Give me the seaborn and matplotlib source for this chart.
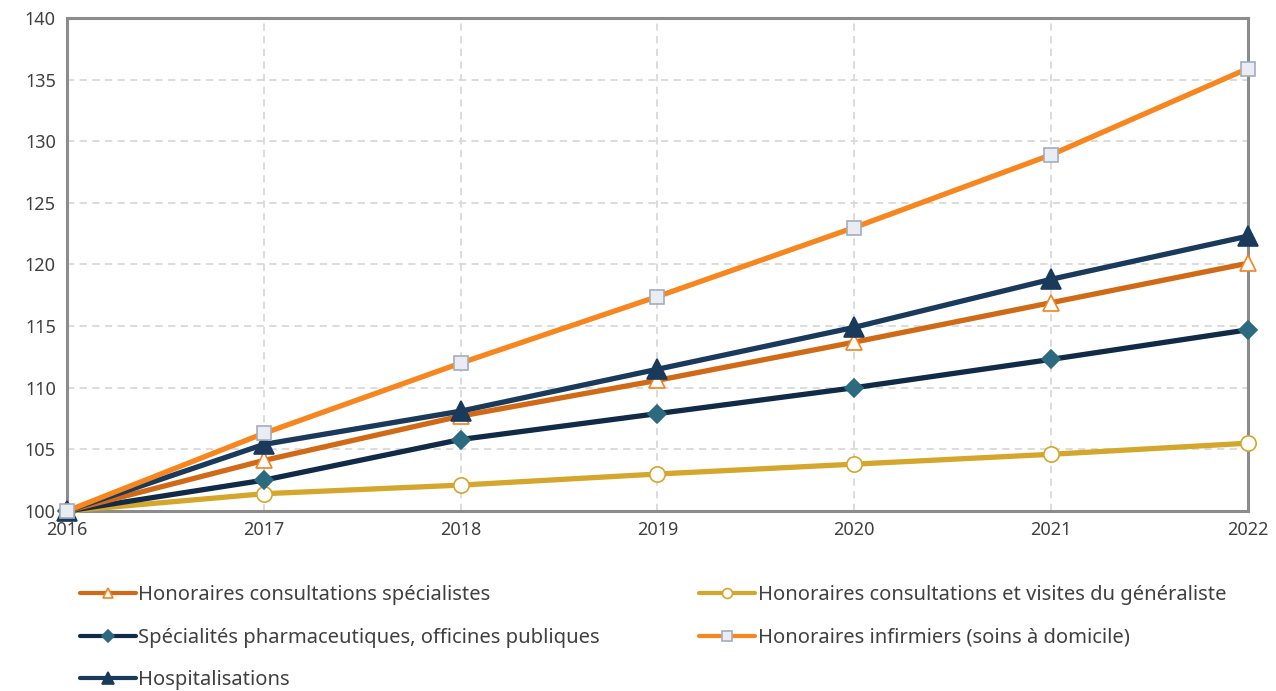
import matplotlib
matplotlib.use("Agg")
import matplotlib.pyplot as plt
import seaborn as sns
import pandas as pd

years = [2016, 2017, 2018, 2019, 2020, 2021, 2022]

specialistes = [100, 104.1, 107.7, 110.6, 113.7, 116.9, 120.1]
generaliste = [100, 101.4, 102.1, 103.0, 103.8, 104.6, 105.5]
pharma = [100, 102.5, 105.8, 107.9, 110.0, 112.3, 114.7]
infirmiers = [100, 106.3, 112.0, 117.4, 123.0, 128.9, 135.9]
hospitalisations = [100, 105.4, 108.1, 111.5, 114.9, 118.8, 122.3]

labels = [
    "Honoraires consultations spécialistes",
    "Honoraires consultations et visites du généraliste",
    "Spécialités pharmaceutiques, officines publiques",
    "Honoraires infirmiers (soins à domicile)",
    "Hospitalisations",
]
values = [specialistes, generaliste, pharma, infirmiers, hospitalisations]

# line colour, marker, marker face, marker edge, marker size
styles = {
    labels[0]: ("#D06A16", "^", "white", "#F58220", 12),
    labels[1]: ("#D5A62C", "o", "white", "#D5A62C", 11),
    labels[2]: ("#112B47", "D", "#2C6A80", "#2C6A80", 9),
    labels[3]: ("#F7861F", "s", "#E9EDF3", "#A3ADBD", 10),
    labels[4]: ("#1A3A5C", "^", "#1A3A5C", "#1A3A5C", 14),
}

df = pd.DataFrame(
    [(y, v, lab) for lab, vals in zip(labels, values) for y, v in zip(years, vals)],
    columns=["year", "value", "series"],
)

sns.set_style("white")
plt.rcParams["font.family"] = ["Noto Sans", "DejaVu Sans"]

fig = plt.figure(figsize=(12.76, 6.91), dpi=100)
ax = fig.add_axes([0.0525, 0.2605, 0.9255, 0.7135])

draw_order = [labels[1], labels[2], labels[0], labels[4], labels[3]]
for lab in draw_order:
    lc, mk, mfc, mec, ms = styles[lab]
    sub = df[df["series"] == lab]
    sns.lineplot(data=sub, x="year", y="value", ax=ax, color=lc, linewidth=3.8,
                 marker=mk, markersize=ms, markerfacecolor=mfc,
                 markeredgecolor=mec, markeredgewidth=1.2, label=lab,
                 clip_on=False, zorder=3)

ax.set_xlim(2016, 2022)
ax.set_ylim(100, 140)
ax.set_xticks(years)
ax.set_yticks(range(100, 141, 5))
ax.set_xlabel("")
ax.set_ylabel("")
ax.grid(True, color="#D9D9D9", linestyle=(0, (4, 3)), linewidth=1.3)
for s in ax.spines.values():
    s.set_color("#8C8C8C")
    s.set_linewidth(2.2)
ax.tick_params(axis="both", colors="#8C8C8C", labelcolor="#404040",
               labelsize=13, length=5, width=1.2, direction="out")
ax.tick_params(axis="x", pad=2)
ax.tick_params(axis="y", pad=3)

handles, hl = ax.get_legend_handles_labels()
hmap = dict(zip(hl, handles))
leg_order = [labels[0], labels[2], labels[4], labels[1], labels[3]]
leg = ax.legend([hmap[l] for l in leg_order], leg_order, ncol=2, frameon=False,
                loc="upper left",
                bbox_to_anchor=(80 / 1276, 1 - 585 / 691, 1146 / 1276, 0),
                bbox_transform=fig.transFigure, mode="expand", fontsize=14.5,
                handlelength=2.8, handletextpad=0.1, labelspacing=1.12,
                markerscale=0.65, labelcolor="#404040", borderaxespad=0,
                borderpad=0)
for ln in leg.get_lines():
    ln.set_linewidth(3)

fig.savefig("out.png", dpi=100)
